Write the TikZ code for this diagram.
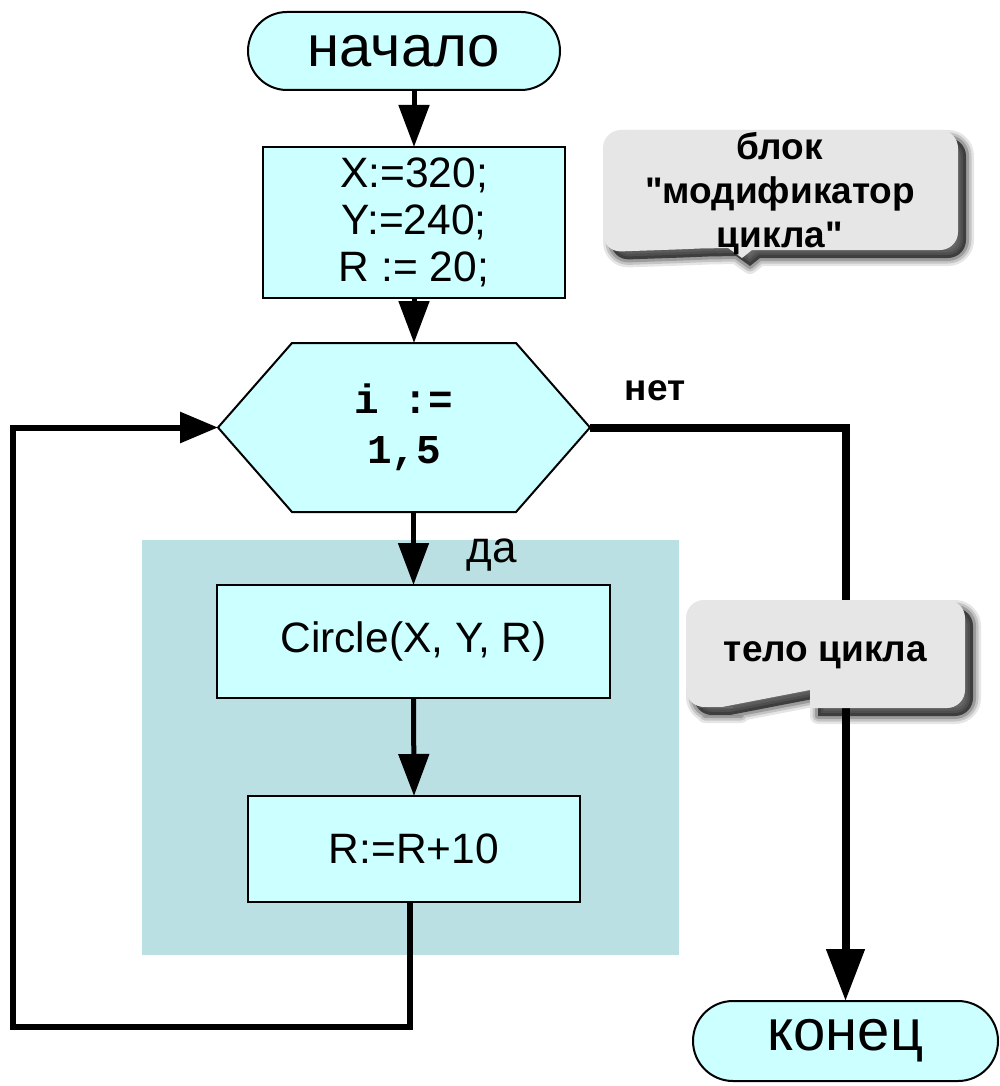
\documentclass[tikz,border=0pt]{standalone}
\usepackage{fontspec}
\setmainfont{Liberation Sans}[Ligatures=TeXOff]
\newfontfamily\codefont{Liberation Mono}
\usetikzlibrary{arrows.meta,calc}

\definecolor{blockfill}{RGB}{204,255,255}
\definecolor{bodybg}{RGB}{187,224,227}
\definecolor{notegray}{RGB}{230,230,230}

\begin{document}
\begin{tikzpicture}[x=1pt,y=-1pt,
  every node/.style={inner sep=0pt, outer sep=0pt},
  terminal/.style={draw, line width=2pt, fill=blockfill, rounded corners=39pt,
    minimum height=78pt, font=\fontsize{58}{64}\selectfont},
  procbox/.style={draw, line width=2pt, fill=blockfill, align=center,
    font=\fontsize{42.5}{47}\selectfont},
  flow/.style={line width=5pt, -{Triangle[length=42pt,width=30pt]}},
  loopback/.style={line width=6pt, -{Triangle[length=38pt,width=30pt]}},
  exitflow/.style={line width=8pt, -{Triangle[length=52pt,width=37pt]}},
  notetext/.style={align=center, font=\bfseries\fontsize{37}{44}\selectfont},
  labeltext/.style={font=\fontsize{44}{50}\selectfont},
  % outlines of the two callouts
  noteApath/.style={insert path={
    [rounded corners=18pt] (860,250) -- (958,250) -- (958,130) -- (603,130)
    -- (603,252) -- (690,249) [sharp corners] -- (700,248.5) -- (728,248)
    -- (742,258) -- (752,250) -- (800,250) -- cycle}},
  noteBpath/.style={insert path={
    [rounded corners=18pt] (900,708) -- (965,708) -- (965,600) -- (686,600)
    -- (686,707) -- (715,707) [sharp corners] -- (722,707) -- (810,690)
    -- (810,708) -- (830,708) -- cycle}},
  noteshadow/.style={shift={(8,8)}}
]
\useasboundingbox (0,0) rectangle (999,1086);
\fill[white] (0,0) rectangle (999,1086);

% shaded area behind the loop body
\node[fill=bodybg, minimum width=537pt, minimum height=415pt] (body) at (410.5,747.5) {};

% blocks
\node[terminal, minimum width=312pt] (start) at (404,51) {начало};
\node[procbox, minimum width=302pt, minimum height=151pt] (init) at (414,222.5)
  {X:=320;\\Y:=240;\\R := 20;};

\node[minimum width=372pt, minimum height=169pt] (hex) at (404,427.5) {};
\filldraw[line width=2pt, fill=blockfill]
  (hex.west) -- ($(hex.north west)+(74,0)$) -- ($(hex.north east)+(-74,0)$)
  -- (hex.east) -- ($(hex.south east)+(-74,0)$) -- ($(hex.south west)+(74,0)$) -- cycle;
\node[align=center, font=\codefont\bfseries\fontsize{41}{50}\selectfont] (hextext)
  at (hex.center) {i :=\\1,5};

\node[procbox, minimum width=393pt, minimum height=113pt] (circ) at (413.5,641.5)
  {Circle(X, Y, R)};
\node[procbox, minimum width=332pt, minimum height=106pt] (incr) at (414,849)
  {R:=R+10};
\node[terminal, minimum width=305pt, minimum height=80pt, rounded corners=40pt]
  (stop) at (845.5,1041) {конец};

% labels
\node[font=\bfseries\fontsize{37}{42}\selectfont] (no) at (655,391) {нет};
\node[labeltext] (yes) at (492,555) {да};

% connectors
\coordinate (loopcorner) at (13,1027);
\draw[flow] (init.north |- start.south) -- (init.north);
\draw[flow] (init.south) -- (init.south |- hex.north);
\draw[flow] (circ.north |- hex.south) -- (circ.north);
\draw[flow] (circ.south) -- (incr.north);
\draw[loopback] ([xshift=-4pt]incr.south) |- (loopcorner) |- (hex.west);
\draw[exitflow] (hex.east) -| (stop.north);

% callouts with soft shadows
\foreach \w/\o in {16/0.10, 11/0.14, 6/0.2} {
  \draw[noteshadow, line width=\w pt, black, opacity=\o, line join=round] [noteApath];
  \draw[noteshadow, line width=\w pt, black, opacity=\o, line join=round] [noteBpath];
}
\fill[noteshadow, black, opacity=0.6] [noteApath];
\fill[noteshadow, black, opacity=0.6] [noteBpath];
\fill[notegray] [noteApath];
\fill[notegray] [noteBpath];

\node[notetext] (noteA) at (780,194) {блок\\"модификатор\\цикла"};
\node[notetext] (noteB) at (825.5,655) {тело цикла};
\end{tikzpicture}
\end{document}
